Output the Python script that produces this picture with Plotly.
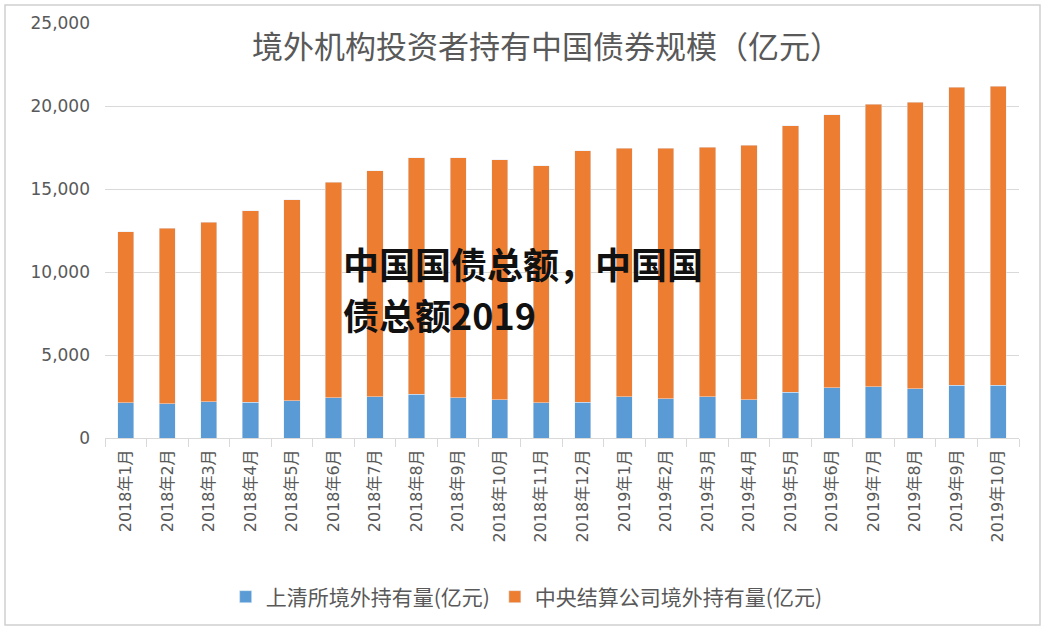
import plotly.graph_objects as go

months = ["2018年1月", "2018年2月", "2018年3月", "2018年4月", "2018年5月", "2018年6月",
          "2018年7月", "2018年8月", "2018年9月", "2018年10月", "2018年11月", "2018年12月",
          "2019年1月", "2019年2月", "2019年3月", "2019年4月", "2019年5月", "2019年6月",
          "2019年7月", "2019年8月", "2019年9月", "2019年10月"]
shch = [2110, 2060, 2170, 2150, 2230, 2430, 2490, 2650, 2430, 2290, 2110, 2150,
        2480, 2350, 2480, 2290, 2750, 3030, 3090, 2970, 3190, 3190]
ccdc = [10300, 10590, 10840, 11530, 12110, 12990, 13600, 14220, 14440, 14460, 14280, 15140,
        14990, 15120, 15050, 15360, 16050, 16430, 17030, 17270, 17950, 18010]
overlay_lines = ["中国国债总额，中国国", "债总额2019"]

BLUE = "#5B9BD5"
ORANGE = "#ED7D31"
GRAY = "#595959"
FONT = "Noto Sans CJK SC"
NUMFONT = "DejaVu Sans, Noto Sans CJK SC"

fig = go.Figure()
fig.add_trace(go.Bar(x=months, y=shch, name="上清所境外持有量(亿元)", marker_color=BLUE))
fig.add_trace(go.Bar(x=months, y=ccdc, name="中央结算公司境外持有量(亿元)", marker_color=ORANGE))

L, R, T, B = 105, 28, 23, 196
W, H = 1047, 634
pw, ph = W - L - R, H - T - B

fig.update_layout(
    width=W, height=H, barmode="stack", bargap=0.61,
    margin=dict(l=L, r=R, t=T, b=B),
    paper_bgcolor="white", plot_bgcolor="white",
    font=dict(family=FONT, color=GRAY),
    title=dict(text="境外机构投资者持有中国债券规模（亿元）", x=0.522, xref="container",
               y=1 - 47 / H, yref="container", xanchor="center", yanchor="middle",
               font=dict(size=31, color=GRAY)),
    legend=dict(orientation="h", x=0.503, xanchor="center", xref="container",
                y=1 - 597 / H, yref="container", yanchor="middle",
                font=dict(size=21, color=GRAY), traceorder="normal",
                itemwidth=30, tracegroupgap=0),
    showlegend=True,
)
fig.update_yaxes(range=[0, 25000], dtick=5000, tickformat=",", showgrid=True,
                 gridcolor="#D9D9D9", gridwidth=1, zeroline=False, showline=False,
                 tickfont=dict(family=NUMFONT, size=17, color=GRAY), ticklabelstandoff=14)
fig.update_xaxes(showline=True, linecolor="#D9D9D9", linewidth=1, ticks="outside",
                 tickson="boundaries", ticklen=8, tickcolor="#D9D9D9", tickangle=-90,
                 tickfont=dict(family=NUMFONT, size=16, color=GRAY), showgrid=False,
                 ticklabelstandoff=4)

# outer frame
fig.add_shape(type="rect", xref="paper", yref="paper",
              x0=(5 - L) / pw, x1=(1040 - L) / pw,
              y0=(H - B - 625) / ph, y1=(H - B - 5) / ph,
              line=dict(color="#D0D0D0", width=1.5), fillcolor="rgba(0,0,0,0)", layer="below")

# overlay text, one annotation per line
for i, line in enumerate(overlay_lines):
    fig.add_annotation(text=line, xref="paper", yref="paper",
                       x=(341 - L) / pw, y=(H - B - (263 + 51 * i)) / ph,
                       xanchor="left", yanchor="middle", align="left", showarrow=False,
                       font=dict(family=FONT, size=36, color="#111111", weight="bold"))

fig.write_html("out.html")
